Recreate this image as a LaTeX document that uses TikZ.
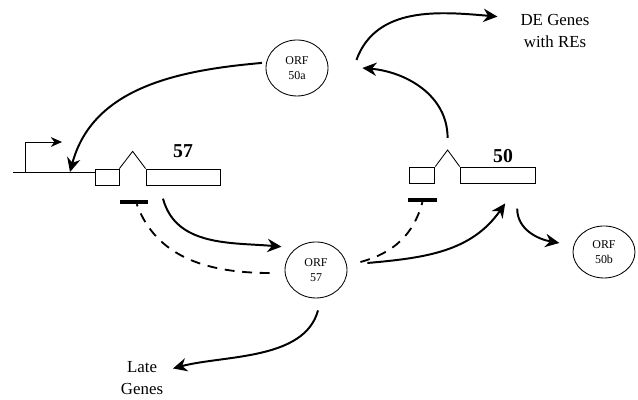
\documentclass[tikz,border=0pt]{standalone}
\usepackage{fontspec}
\setmainfont{Liberation Serif}
\usepackage{tikz}
\usetikzlibrary{arrows.meta,shapes,positioning}
\tikzstyle{arrow} = [line width=1.4pt,-{Stealth[length=10pt,width=9.5pt]}]
\tikzstyle{repress} = [line width=1.3pt,dash pattern=on 7pt off 5.5pt]
\tikzstyle{orf} = [ellipse, draw, minimum width=1.55cm, minimum height=1.4cm, inner sep=0pt, align=center, font=\fontsize{8.5}{10.7}\selectfont]
\tikzstyle{exon} = [rectangle, draw, fill=white, minimum height=0.4cm, inner sep=0pt]
\tikzstyle{repbar} = [rectangle, fill=black, minimum width=0.72cm, minimum height=0.09cm, inner sep=0pt]
\tikzstyle{genename} = [font=\fontsize{14}{16}\selectfont\bfseries]
\tikzstyle{genes} = [align=center, font=\fontsize{12}{15.5}\selectfont]

\begin{document}
\begin{tikzpicture}[line width=0.6pt]
\useasboundingbox (0,0) rectangle (15.95,10);

% gene 57
\coordinate (line57) at (0.33,5.68);
\coordinate (tss57) at (0.63,5.68);
\coordinate (prom57) at (1.55,6.45);
\coordinate (hit57) at (1.75,5.7);
\node[exon, minimum width=0.6cm] (ex57a) at (2.675,5.575) {};
\node[exon, minimum width=1.85cm] (ex57b) at (4.575,5.575) {};
\draw (line57) -- (line57 -| ex57a.west);
\draw (ex57a.north east) -- ++(0.33,0.43) -- (ex57b.north west);
\draw[-{Stealth[length=8pt,width=7pt]}] (tss57) |- (prom57);
\node[genename, above of=ex57b, node distance=0.65cm] (lbl57) {57};
\node[repbar] (rep57) at (3.35,4.95) {};

% gene 50
\node[exon, minimum width=0.625cm] (ex50a) at (10.56,5.625) {};
\node[exon, minimum width=1.875cm] (ex50b) at (12.44,5.625) {};
\coordinate (splice50) at (11.19,6.25);
\draw (ex50a.north east) -- (splice50) -- (ex50b.north west);
\node[genename] (lbl50) at (12.575,6.1) {50};
\node[repbar] (rep50) at (10.56,5.0) {};

% ORFs
\node[orf] (orf50a) at (7.425,8.3) {ORF\\50a};
\node[orf] (orf57) at (7.9,3.25) {ORF\\57};
\node[orf, minimum height=1.3cm] (orf50b) at (15.1,3.7) {ORF\\50b};

% targets
\node[genes] (de) at (13.875,9.225) {DE Genes\\with REs};
\node[genes] (late) at (3.55,0.55) {Late\\Genes};

% activation
\draw[arrow, shorten <=3pt] (orf50a.170) to[out=185,in=75] (hit57);
\draw[arrow] ([yshift=0.3cm]splice50) to[out=90,in=-5] ([xshift=0.85cm]orf50a.east);
\draw[arrow] ([xshift=0.7cm,yshift=0.2cm]orf50a.east) to[out=70,in=175] ([xshift=-0.45cm]de.160);
\draw[arrow] ([xshift=-0.5cm,yshift=-0.33cm]ex57b.south) to[out=-75,in=175] ([shift={(-0.2,0.2)}]orf57.150);
\draw[arrow] ([xshift=0.5cm,yshift=0.175cm]orf57.east) to[out=5,in=-125] ([xshift=0.19cm,yshift=-0.5cm]ex50b.south);
\draw[arrow] ([xshift=0.49cm,yshift=-0.63cm]ex50b.south) to[out=-90,in=170] ([xshift=-0.33cm,yshift=0.225cm]orf50b.west);
\draw[arrow] ([xshift=0.05cm,yshift=-0.3cm]orf57.south) to[out=-105,in=15,looseness=0.85] ([xshift=0.12cm]late.20);

% repression
\draw[repress] ([xshift=-0.375cm,yshift=-0.075cm]orf57.west) to[out=180,in=-70] ([xshift=0.07cm]rep57.south);
\draw[repress] ([xshift=0.325cm,yshift=0.2cm]orf57.east) to[out=15,in=-105] (rep50.south);
\end{tikzpicture}
\end{document}
